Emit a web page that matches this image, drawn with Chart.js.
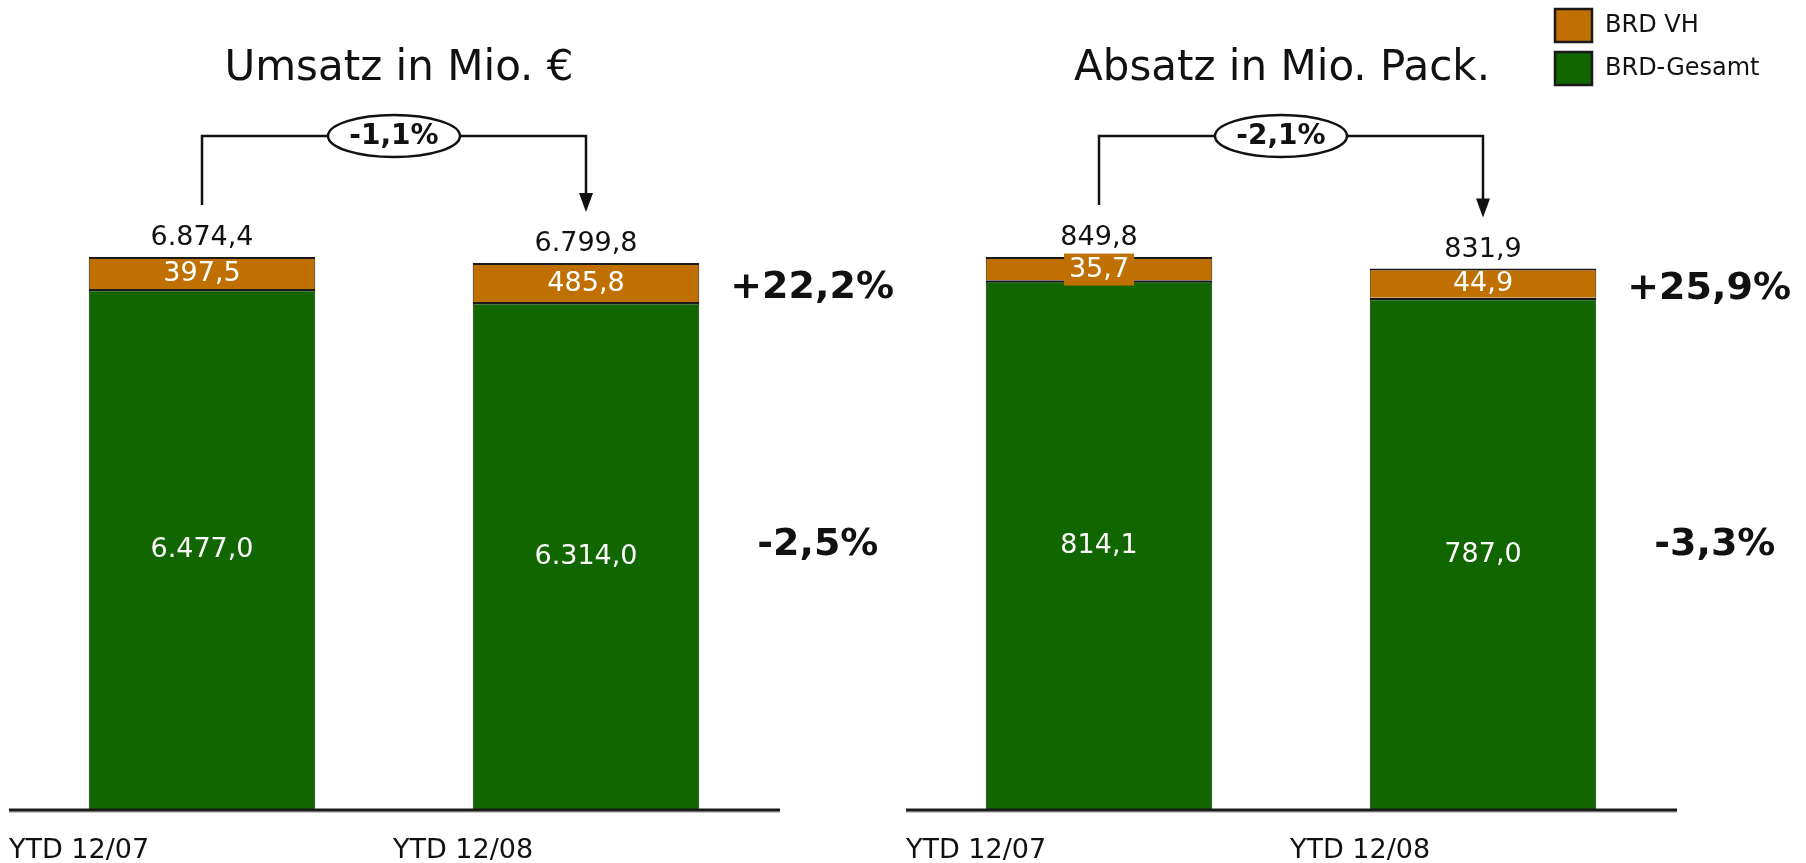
<!DOCTYPE html>
<html>
<head>
<meta charset="utf-8">
<script src="https://cdn.jsdelivr.net/npm/chart.js@4.4.1/dist/chart.umd.min.js"></script>
<style>
    html, body { margin: 0; padding: 0; background: #fff; }
    #wrap { position: relative; width: 1806px; height: 863px; }
    .panel { position: absolute; top: 0; width: 903px; height: 863px; }
</style>
</head>
<body>
<div id="wrap">
    <div class="panel" style="left:0"><canvas id="umsatzCanvas"></canvas></div>
    <div class="panel" style="left:903px"><canvas id="absatzCanvas"></canvas></div>
</div>
<script>
    // data
    var categories = ['YTD 12/07', 'YTD 12/08'];
    var seriesNames = ['BRD VH', 'BRD-Gesamt'];

    var umsatzGesamt = [6477.0, 6314.0];
    var umsatzVH = [397.5, 485.8];
    var umsatzTotal = [6874.4, 6799.8];

    var absatzGesamt = [814.1, 787.0];
    var absatzVH = [35.7, 44.9];
    var absatzTotal = [849.8, 831.9];

    var totalChange = ['-1,1%', '-2,1%'];
    var vhChange = ['+22,2%', '+25,9%'];
    var gesamtChange = ['-2,5%', '-3,3%'];

    var GREEN = '#116600';
    var ORANGE = '#C07000';
    var FONT = '"DejaVu Sans", Verdana, sans-serif';

    // german number format: 6.874,4
    var fmt = function (v) {
        var parts = v.toFixed(1).split('.');
        parts[0] = parts[0].replace(/\B(?=(\d{3})+(?!\d))/g, '.');
        return parts[0] + ',' + parts[1];
    };

    /************** annotations drawn on top of the bars ********************/
    var slidePlugin = {
        id: 'slide',
        afterDatasetsDraw: function (chart) {
            var o = chart.options.plugins.slide;
            var ctx = chart.ctx;
            var area = chart.chartArea;
            var green = chart.getDatasetMeta(0).data;
            var orange = chart.getDatasetMeta(1).data;

            ctx.save();
            ctx.textAlign = 'center';
            ctx.textBaseline = 'middle';

            // title
            ctx.fillStyle = '#111';
            ctx.font = '42px ' + FONT;
            ctx.fillText(o.title, o.titleX, 69);

            // segment labels
            ctx.font = '27px ' + FONT;
            for (var i = 0; i < green.length; i++) {
                var g = green[i], r = orange[i];
                ctx.fillStyle = '#fff';
                ctx.fillText(fmt(o.gesamt[i]), g.x, (g.y + g.base) / 2 + 1);

                var cy = (r.y + r.base) / 2 + 1;
                var txt = fmt(o.vh[i]);
                if (r.base - r.y < 26) {
                    var w = ctx.measureText(txt).width + 10;
                    ctx.fillStyle = ORANGE;
                    ctx.fillRect(r.x - w / 2, cy - 16, w, 32);
                }
                ctx.fillStyle = '#fff';
                ctx.fillText(txt, r.x, cy);

                // totals above
                ctx.fillStyle = '#111';
                ctx.fillText(fmt(o.total[i]), r.x, r.y - 19);
            }

            // growth figures right of second bar
            var last = green.length - 1;
            ctx.font = 'bold 38px ' + FONT;
            ctx.textAlign = 'left';
            var gx = green[last].x + green[last].width / 2 + 31;
            ctx.fillText(o.vhChange, gx, (orange[last].y + orange[last].base) / 2 + 6);
            ctx.fillText(o.gesamtChange, gx + 27, 545);

            // category labels
            ctx.font = '27px ' + FONT;
            for (var k = 0; k < categories.length; k++) {
                ctx.fillText(chart.data.labels[k], green[k].x - 193, 851);
            }

            // bracket with arrow
            var by = area.top + 36;
            var x1 = orange[0].x, x2 = orange[1].x;
            ctx.strokeStyle = '#111';
            ctx.lineWidth = 2.5;
            ctx.beginPath();
            ctx.moveTo(x1, orange[0].y - 52);
            ctx.lineTo(x1, by);
            ctx.lineTo(x2, by);
            ctx.lineTo(x2, orange[1].y - 66);
            ctx.stroke();
            ctx.fillStyle = '#111';
            ctx.beginPath();
            ctx.moveTo(x2 - 7, orange[1].y - 70);
            ctx.lineTo(x2 + 7, orange[1].y - 70);
            ctx.lineTo(x2, orange[1].y - 51);
            ctx.closePath();
            ctx.fill();

            var ex = (x1 + x2) / 2 - o.ovalShift;
            ctx.beginPath();
            ctx.ellipse(ex, by, 66, 21, 0, 0, Math.PI * 2);
            ctx.fillStyle = '#fff';
            ctx.fill();
            ctx.lineWidth = 2.5;
            ctx.stroke();
            ctx.fillStyle = '#111';
            ctx.textAlign = 'center';
            ctx.font = 'bold 28px ' + FONT;
            ctx.fillText(o.change, ex, by + 1);

            // base line
            ctx.strokeStyle = '#c8c8c8';
            ctx.lineWidth = 2;
            ctx.beginPath();
            ctx.moveTo(area.left - 1, area.bottom + 2);
            ctx.lineTo(area.right + 2, area.bottom + 2);
            ctx.stroke();
            ctx.strokeStyle = '#1a1a1a';
            ctx.lineWidth = 3;
            ctx.beginPath();
            ctx.moveTo(area.left - 1, area.bottom);
            ctx.lineTo(area.right + 2, area.bottom);
            ctx.stroke();

            // legend (only on the right panel)
            if (o.legend) {
                var lx = 652;
                var items = [[seriesNames[0], ORANGE, 9], [seriesNames[1], GREEN, 52]];
                ctx.textAlign = 'left';
                ctx.font = '24px ' + FONT;
                items.forEach(function (it) {
                    ctx.fillStyle = it[1];
                    ctx.fillRect(lx, it[2], 37, 33);
                    ctx.strokeStyle = '#1a1a1a';
                    ctx.lineWidth = 2.5;
                    ctx.strokeRect(lx, it[2], 37, 33);
                    ctx.fillStyle = '#111';
                    ctx.fillText(it[0], lx + 50, it[2] + 17);
                });
            }
            ctx.restore();
        }
    };

    var makeChart = function (id, gesamt, vh, total, yMax, padLeft, extra) {
        var ctx = document.getElementById(id);
        var annot = {
            gesamt: gesamt,
            vh: vh,
            total: total
        };
        for (var key in extra) {
            annot[key] = extra[key];
        }
        return new Chart(ctx, {
            type: 'bar',
            data: {
                labels: categories,
                datasets: [
                    {
                        label: seriesNames[1],
                        data: gesamt,
                        backgroundColor: GREEN,
                        borderColor: '#1a1a1a',
                        borderWidth: {top: 2.5, left: 1, right: 1, bottom: 0},
                        borderSkipped: false
                    },
                    {
                        label: seriesNames[0],
                        data: vh,
                        backgroundColor: ORANGE,
                        borderColor: '#1a1a1a',
                        borderWidth: {top: 2, left: 1, right: 1, bottom: 0},
                        borderSkipped: false
                    }
                ]
            },
            options: {
                responsive: true,
                maintainAspectRatio: false,
                animation: false,
                barPercentage: 0.59,
                categoryPercentage: 1.0,
                layout: {
                    padding: {left: padLeft, right: 903 - padLeft - 768, top: 100, bottom: 53}
                },
                scales: {
                    x: {stacked: true, display: false},
                    y: {stacked: true, display: false, min: 0, max: yMax}
                },
                plugins: {
                    legend: {display: false},
                    tooltip: {enabled: false},
                    slide: annot
                }
            },
            plugins: [slidePlugin]
        });
    };

    makeChart('umsatzCanvas', umsatzGesamt, umsatzVH, umsatzTotal, 8826, 10, {
        title: 'Umsatz in Mio. €',
        titleX: 399,
        change: totalChange[0],
        vhChange: vhChange[0],
        gesamtChange: gesamtChange[0],
        ovalShift: 0,
        legend: false
    });

    makeChart('absatzCanvas', absatzGesamt, absatzVH, absatzTotal, 1091, 4, {
        title: 'Absatz in Mio. Pack.',
        titleX: 379,
        change: totalChange[1],
        vhChange: vhChange[1],
        gesamtChange: gesamtChange[1],
        ovalShift: 10,
        legend: true
    });
</script>
</body>
</html>
